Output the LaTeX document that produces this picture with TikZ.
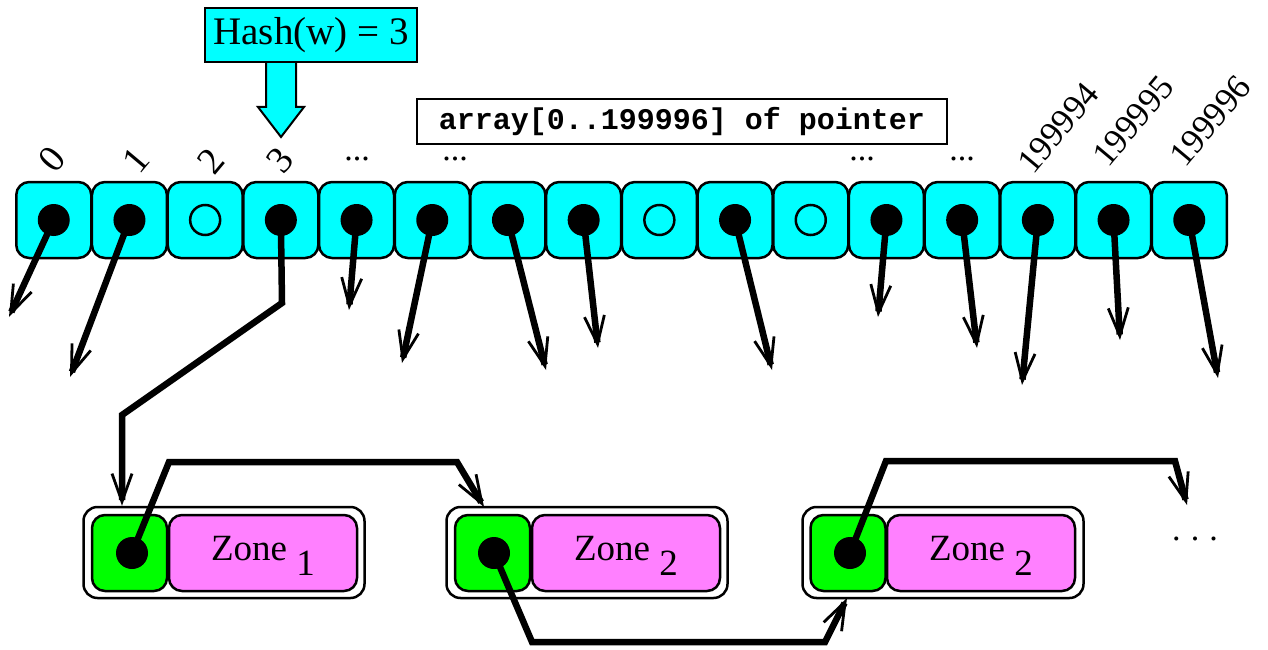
\documentclass[tikz,border=0pt]{standalone}
\usepackage{fontspec}
\setmainfont{Liberation Serif}
\setmonofont{Liberation Mono}
\usetikzlibrary{arrows.meta}
\definecolor{cellcyan}{RGB}{0,255,255}
\definecolor{zgreen}{RGB}{0,255,0}
\definecolor{zpink}{RGB}{255,128,255}
\tikzset{
  cellbox/.style={draw, line width=2.5pt, fill=cellcyan, rounded corners=13pt, minimum width=75pt, minimum height=76pt, inner sep=0pt},
  fulldot/.style={circle, fill=black, minimum size=32pt, inner sep=0pt},
  nulldot/.style={circle, draw, line width=2.5pt, minimum size=30pt, inner sep=0pt},
  ptr/.style={line width=6.5pt, -{Straight Barb[length=28pt,width=20pt,line width=2.8pt]}},
  idx/.style={font=\fontsize{38}{44}\selectfont, rotate=50, inner sep=0pt},
  bigidx/.style={font=\fontsize{35}{42}\selectfont, rotate=50, inner sep=0pt},
  gap/.style={font=\fontsize{34}{40}\selectfont, anchor=base, inner sep=0pt},
  outerbox/.style={draw, line width=2.5pt, fill=white, rounded corners=14pt, minimum width=281pt, minimum height=91pt, inner sep=0pt},
  headbox/.style={draw, line width=2.5pt, fill=zgreen, rounded corners=13pt, minimum width=75pt, minimum height=76pt, inner sep=0pt},
  zonebox/.style={draw, line width=2.5pt, fill=zpink, rounded corners=13pt, minimum width=188pt, minimum height=76pt, inner sep=0pt},
  zonetext/.style={font=\fontsize{37}{42}\selectfont, anchor=base, inner sep=0pt},
  hashbox/.style={draw, line width=2pt, fill=cellcyan, minimum width=212pt, minimum height=54pt, inner sep=0pt, font=\fontsize{39}{44}\selectfont},
  labelbox/.style={draw, line width=1.6pt, fill=white, minimum width=530pt, minimum height=45pt, inner sep=0pt, font=\ttfamily\bfseries\fontsize{30}{36}\selectfont}
}
\begin{document}
\begin{tikzpicture}[x=1pt,y=-1pt]
\useasboundingbox (0,0) rectangle (1268,650);

% hash box and block arrow
\filldraw[fill=cellcyan, line width=2pt, line join=miter] (266,62) -- (266,107) -- (258,107) -- (281,137) -- (304,107) -- (296,107) -- (296,62);
\node[hashbox] (hash) at (311,35) {Hash(w) = 3};

% array label
\node[labelbox] (arr) at (682,121.5) {array[0..199996] of pointer};

% array cells
\foreach \i in {0,...,15} {
  \node[cellbox] (c\i) at ({53.75+75.7*\i},220) {};
}

% index labels
\node[idx] (l0) at (52,159) {0};
\node[idx] (l1) at (136,160) {1};
\node[idx] (l2) at (211,161) {2};
\node[idx] (l3) at (280,160) {3};
\node[gap] (g4) at (357,160) {...};
\node[gap] (g5) at (455,160) {...};
\node[gap] (g11) at (862,160) {...};
\node[gap] (g12) at (962,160) {...};
\node[bigidx] (l13) at (1058,128) {199994};
\node[bigidx] (l14) at (1133,121) {199995};
\node[bigidx] (l15) at (1210,121) {199996};

% zone boxes
\node[outerbox] (o1) at (224,552.5) {};
\node[headbox] (h1) at (129.5,553) {};
\node[zonebox] (p1) at (263,553) {};
\node[zonetext] (zt1) at (263,560) {Zone \raisebox{-15pt}{1}};

\node[outerbox] (o2) at (587,552.5) {};
\node[headbox] (h2) at (492.5,553) {};
\node[zonebox] (p2) at (626,553) {};
\node[zonetext] (zt2) at (626,560) {Zone \raisebox{-15pt}{2}};

\node[outerbox] (o3) at (943,552.5) {};
\node[headbox] (h3) at (848,553) {};
\node[zonebox] (p3) at (981,553) {};
\node[zonetext] (zt3) at (981,560) {Zone \raisebox{-15pt}{2}};

\node[gap] (more) at (1195,540) {.\hspace{0.3em}.\hspace{0.3em}.};

% pointer targets
\coordinate (t0) at (9,317);
\coordinate (t1) at (70,377);
\coordinate (t4) at (349,310);
\coordinate (t5) at (402,363);
\coordinate (t6) at (546,370);
\coordinate (t7) at (598,348);
\coordinate (t9) at (772,370);
\coordinate (t11) at (878,317);
\coordinate (t12) at (977,348);
\coordinate (t13) at (1022,385);
\coordinate (t14) at (1120,340);
\coordinate (t15) at (1218,378);

\foreach \i in {0,1,4,5,6,7,9,11,12,13,14,15} {
  \draw[ptr] (c\i.center) -- (t\i);
}

% chain dots in zone heads
\coordinate (k1) at (132,553);
\coordinate (k2) at (494,553);
\coordinate (k3) at (850,553);

% hash chain
\draw[ptr] (c3.center) -- (282,303) -- (122,415) -- (o1.north -| 122,0);
\draw[ptr] (k1) -- (169,462) -- (457,462) -- (484,507);
\draw[ptr] (k2) -- (532,642) -- (825,642) -- (847,598);
\draw[ptr] (k3) -- (886,461) -- (1175,461) -- (1187,505);

% dots
\foreach \i in {0,1,3,4,5,6,7,9,11,12,13,14,15} {
  \node[fulldot] (d\i) at (c\i.center) {};
}
\foreach \i in {2,8,10} {
  \node[nulldot] (d\i) at (c\i.center) {};
}
\node[fulldot] (kd1) at (k1) {};
\node[fulldot] (kd2) at (k2) {};
\node[fulldot] (kd3) at (k3) {};
\end{tikzpicture}
\end{document}
